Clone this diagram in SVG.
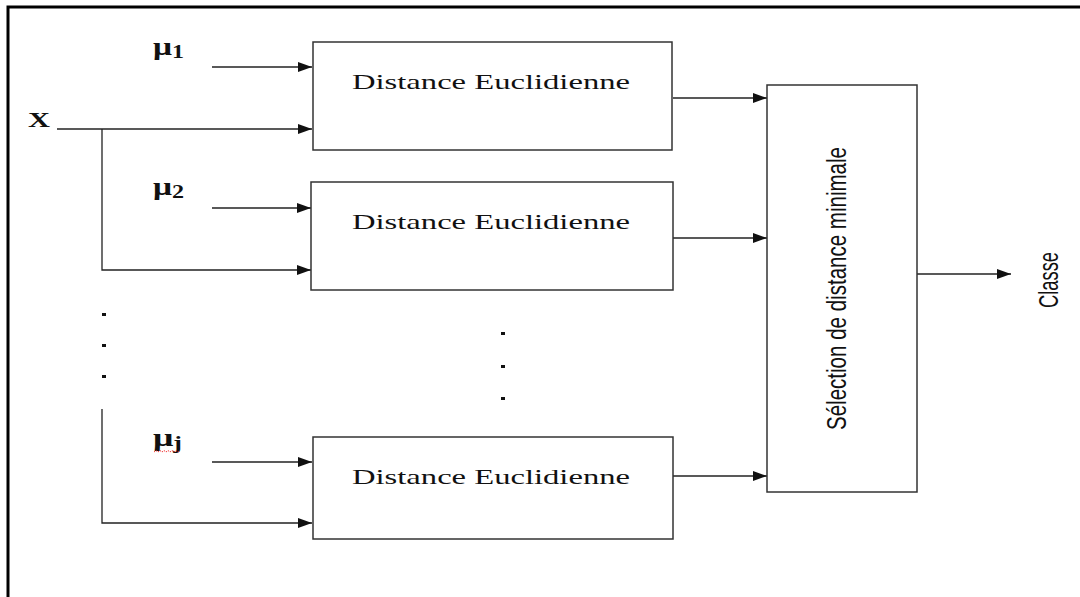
<svg xmlns="http://www.w3.org/2000/svg" width="1080" height="597" viewBox="0 0 1080 597">
<style>
.box{fill:#fff;stroke:#333;stroke-width:1.5}
.ln{fill:none;stroke:#222;stroke-width:1.3}
.serif{font-family:"Liberation Serif","Times New Roman",serif;fill:#111}
.sans{font-family:"Liberation Sans",Arial,sans-serif;fill:#111}
.mu{font-family:"Liberation Serif","Times New Roman",serif;fill:#111;font-weight:bold;font-size:25px}
.sub{font-size:18px}
.dot{fill:#111}
</style>
<defs>
<marker id="ah" markerWidth="14" markerHeight="10" refX="14" refY="5" orient="auto" markerUnits="userSpaceOnUse">
<path d="M0,0 L14,5 L0,10 Z" fill="#111"/>
</marker>
</defs>
<rect width="1080" height="597" fill="#fff"/>
<g id="frame">
<path d="M8,597 L8,7 L1080,7" fill="none" stroke="#000" stroke-width="3"/>
</g>
<g id="connectors">
<path class="ln" d="M212,67 H312" marker-end="url(#ah)"/>
<path class="ln" d="M57,129 H312" marker-end="url(#ah)"/>
<path class="ln" d="M102,129 V270 H311" marker-end="url(#ah)"/>
<path class="ln" d="M212,208 H311" marker-end="url(#ah)"/>
<path class="ln" d="M102,409 V523 H312" marker-end="url(#ah)"/>
<path class="ln" d="M212,462 H312" marker-end="url(#ah)"/>
<path class="ln" d="M673,98 H767" marker-end="url(#ah)"/>
<path class="ln" d="M673,238 H767" marker-end="url(#ah)"/>
<path class="ln" d="M673,476 H767" marker-end="url(#ah)"/>
<path class="ln" d="M917,274 H1011" marker-end="url(#ah)"/>
</g>
<g id="node-d1">
<rect class="box" x="313" y="42" width="359" height="108"/>
<text class="serif" x="352" y="89" font-size="22" textLength="278" lengthAdjust="spacingAndGlyphs">Distance Euclidienne</text>
</g>
<g id="node-d2">
<rect class="box" x="311" y="182" width="362" height="108"/>
<text class="serif" x="352" y="229" font-size="22" textLength="278" lengthAdjust="spacingAndGlyphs">Distance Euclidienne</text>
</g>
<g id="node-dj">
<rect class="box" x="313" y="437" width="360" height="102"/>
<text class="serif" x="352" y="484" font-size="22" textLength="278" lengthAdjust="spacingAndGlyphs">Distance Euclidienne</text>
</g>
<g id="node-select">
<rect class="box" x="767" y="85" width="150" height="407"/>
<text class="sans" transform="translate(846,430) rotate(-90)" font-size="27" textLength="283" lengthAdjust="spacingAndGlyphs">Sélection de distance minimale</text>
</g>
<g id="label-classe">
<text class="sans" transform="translate(1058,308) rotate(-90)" font-size="27" textLength="56" lengthAdjust="spacingAndGlyphs">Classe</text>
</g>
<g id="label-x">
<text class="serif" x="28" y="127" font-size="20" font-weight="bold" textLength="22" lengthAdjust="spacingAndGlyphs">X</text>
</g>
<g id="label-mu1">
<text class="mu" x="153" y="55" textLength="31" lengthAdjust="spacingAndGlyphs">μ<tspan class="sub" dy="3">1</tspan></text>
</g>
<g id="label-mu2">
<text class="mu" x="153" y="195" textLength="31" lengthAdjust="spacingAndGlyphs">μ<tspan class="sub" dy="3">2</tspan></text>
</g>
<g id="label-muj">
<text class="mu" x="153" y="446" textLength="29" lengthAdjust="spacingAndGlyphs">μ<tspan class="sub" dy="3">j</tspan></text>
<path d="M154,452 l2,-1.5 l2,1.5 l2,-1.5 l2,1.5 l2,-1.5 l2,1.5 l2,-1.5 l2,1.5 l2,-1.5 l2,1.5 l2,-1.5 l2,1.5 l2,-1.5" fill="none" stroke="#e22" stroke-width="0.9" stroke-dasharray="1.5,1"/>
</g>
<g id="dots">
<rect class="dot" x="102" y="313" width="4" height="3"/>
<rect class="dot" x="102" y="344" width="4" height="3"/>
<rect class="dot" x="102" y="375" width="4" height="3"/>
<rect class="dot" x="501" y="332" width="4" height="3"/>
<rect class="dot" x="501" y="365" width="4" height="3"/>
<rect class="dot" x="501" y="397" width="4" height="3"/>
</g>
</svg>
